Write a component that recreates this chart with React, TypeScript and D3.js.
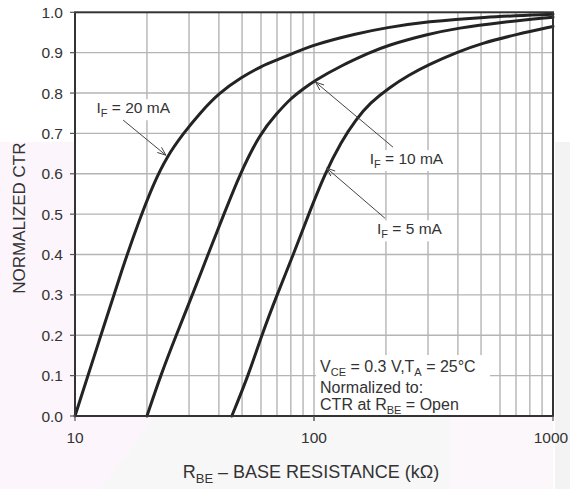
import React from "react";
import * as d3 from "d3";

// ---- data ----
const xTickValues = [10, 100, 1000];
const xTickLabels = ["10", "100", "1000"];
const yTickValues = [0, 0.1, 0.2, 0.3, 0.4, 0.5, 0.6, 0.7, 0.8, 0.9, 1.0];
const yTickLabels = ["0.0", "0.1", "0.2", "0.3", "0.4", "0.5", "0.6", "0.7", "0.8", "0.9", "1.0"];

const rbe20 = [10, 12.6, 15.85, 18.7, 21.3, 24.2, 28.4, 33.3, 40, 50, 60, 70, 80, 100, 150, 200, 300, 500, 1000];
const ctr20 = [0, 0.185, 0.37, 0.49, 0.575, 0.642, 0.7, 0.75, 0.8, 0.84, 0.866, 0.882, 0.896, 0.92, 0.947, 0.962, 0.977, 0.988, 0.995];

const rbe10 = [20, 22.8, 26.5, 31, 36, 42, 49, 59.5, 70, 80, 90, 100, 130, 171, 200, 300, 400, 600, 1000];
const ctr10 = [0, 0.1, 0.2, 0.3, 0.4, 0.5, 0.6, 0.7, 0.75, 0.787, 0.81, 0.83, 0.868, 0.9, 0.917, 0.946, 0.961, 0.975, 0.988];

const rbe5 = [45.3, 53.1, 60.4, 70, 82, 95, 111, 130, 150, 171, 208, 250, 300, 400, 500, 700, 1000];
const ctr5 = [0, 0.1, 0.2, 0.3, 0.4, 0.5, 0.6, 0.68, 0.735, 0.775, 0.815, 0.845, 0.87, 0.902, 0.923, 0.945, 0.965];

const seriesNames = ["20", "10", "5"];

// annotation anchors in data coordinates
const labelR = [12.3, 171, 183.5];
const labelC = [0.75, 0.624, 0.45];
const arrowTailR = [15.9, 214, 198];
const arrowTailC = [0.733, 0.666, 0.49];
const arrowTipR = [24.0, 101.5, 113];
const arrowTipC = [0.646, 0.827, 0.614];

const noteR = 106;
const noteC = [0.109, 0.057, 0.015];

const W = 570;
const H = 489;
const FONT = "'Liberation Sans', Arial, Helvetica, sans-serif";

export default function App() {
  const x = d3.scaleLog().domain([10, 1000]).range([75, 553]);
  const y = d3.scaleLinear().domain([0, 1]).range([416, 12.3]);

  const minorX: number[] = [];
  for (const dec of [10, 100]) {
    for (let k = 2; k <= 9; k++) minorX.push(dec * k);
  }
  const gridY = yTickValues.slice(1, -1);

  const line = d3
    .line<[number, number]>()
    .x((d) => x(d[0]))
    .y((d) => y(d[1]))
    .curve(d3.curveBasis);

  const series = [
    rbe20.map((r, i) => [r, ctr20[i]] as [number, number]),
    rbe10.map((r, i) => [r, ctr10[i]] as [number, number]),
    rbe5.map((r, i) => [r, ctr5[i]] as [number, number]),
  ];

  const arrowHead = (x1: number, y1: number, x2: number, y2: number) => {
    const a = Math.atan2(y2 - y1, x2 - x1);
    const L = 9;
    const s = 0.38;
    const p1 = [x2 - L * Math.cos(a - s), y2 - L * Math.sin(a - s)];
    const p2 = [x2 - L * Math.cos(a + s), y2 - L * Math.sin(a + s)];
    return `M${p1[0]},${p1[1]}L${x2},${y2}L${p2[0]},${p2[1]}`;
  };

  const left = x(10);
  const right = x(1000);
  const top = y(1);
  const bottom = y(0);

  const textColor = "#333";
  const gridColor = "#b4b4b4";

  const labelW = [80, 82, 72];
  const LF = 15.5;
  const SUB = 11;

  return (
    <svg
      width={W}
      height={H}
      style={{ position: "absolute", left: 0, top: 0, background: "#fff" }}
      fontFamily={FONT}
    >
      {/* faint watermark background */}
      <polygon points={`0,142 ${left},142 ${left},${bottom} 155,${bottom} 100,${H} 0,${H}`} fill="#fcf5fb" />
      <polygon points={`155,${bottom} 450,${bottom} 450,${H} 100,${H}`} fill="#f8f7f8" />
      <polygon points={`450,${bottom} ${right},${bottom} ${right},${H} 450,${H}`} fill="#fcf7fb" />
      <polygon points={`${right + 2},142 ${W},142 ${W},${H} ${right + 2},${H}`} fill="#f3f3f3" />
      <rect x={left} y={top} width={right - left} height={bottom - top} fill="#fff" />

      {/* grid */}
      {gridY.map((v) => (
        <line key={"gy" + v} x1={left} x2={right} y1={y(v)} y2={y(v)} stroke={gridColor} strokeWidth={1.4} />
      ))}
      {minorX.map((v) => (
        <line key={"gx" + v} x1={x(v)} x2={x(v)} y1={top} y2={bottom} stroke={gridColor} strokeWidth={1.4} />
      ))}
      <line x1={x(100)} x2={x(100)} y1={top} y2={bottom + 5} stroke={gridColor} strokeWidth={1.4} />

      {/* white boxes behind annotations */}
      {seriesNames.map((n, i) => (
        <rect
          key={"lb" + n}
          x={x(labelR[i]) - 3}
          y={y(labelC[i]) - 14}
          width={labelW[i]}
          height={21}
          fill="#fff"
        />
      ))}
      <rect x={x(noteR) - 4} y={y(noteC[0]) - 17} width={174} height={bottom - (y(noteC[0]) - 17)} fill="#fff" />

      {/* curves */}
      {series.map((s, i) => (
        <path
          key={"c" + i}
          d={line(s) || ""}
          fill="none"
          stroke="#232323"
          strokeWidth={3}
          strokeLinejoin="round"
          strokeLinecap="round"
        />
      ))}

      {/* frame */}
      <rect x={left} y={top} width={right - left} height={bottom - top} fill="none" stroke="#333" strokeWidth={2} />

      {/* ticks */}
      {yTickValues.map((v) => (
        <line key={"ty" + v} x1={left - 5} x2={left} y1={y(v)} y2={y(v)} stroke="#555" strokeWidth={1.2} />
      ))}
      {xTickValues.map((v) => (
        <line key={"tx" + v} x1={x(v)} x2={x(v)} y1={bottom} y2={bottom + 5} stroke="#555" strokeWidth={1.2} />
      ))}

      {/* tick labels */}
      {yTickValues.map((v, i) => (
        <text
          key={"ly" + v}
          x={left - 12}
          y={y(v)}
          dy="0.36em"
          textAnchor="end"
          fontSize={15.5}
          fill={textColor}
        >
          {yTickLabels[i]}
        </text>
      ))}
      {xTickValues.map((v, i) => (
        <text key={"lx" + v} x={x(v) - (i === 2 ? 2 : 0)} y={bottom + 27} textAnchor="middle" fontSize={15.5} fill={textColor}>
          {xTickLabels[i]}
        </text>
      ))}

      {/* axis titles */}
      <text
        transform={`translate(25, ${(top + bottom) / 2 + 4}) rotate(-90)`}
        textAnchor="middle"
        fontSize={17}
        fill={textColor}
      >
        NORMALIZED CTR
      </text>
      <text x={(left + right) / 2 - 3} y={bottom + 62} textAnchor="middle" fontSize={18} fill={textColor}>
        R<tspan fontSize={13} dy={4.5}>BE</tspan>
        <tspan dy={-4.5}> – BASE RESISTANCE (kΩ)</tspan>
      </text>

      {/* series labels + arrows */}
      {seriesNames.map((n, i) => {
        const x1 = x(arrowTailR[i]);
        const y1 = y(arrowTailC[i]);
        const x2 = x(arrowTipR[i]);
        const y2 = y(arrowTipC[i]);
        return (
          <g key={"a" + n}>
            <text x={x(labelR[i])} y={y(labelC[i])} fontSize={LF} fill={textColor}>
              I<tspan fontSize={SUB} dy={4}>F</tspan>
              <tspan dy={-4}>{` = ${n} mA`}</tspan>
            </text>
            <line x1={x1} y1={y1} x2={x2} y2={y2} stroke="#444" strokeWidth={1} />
            <path d={arrowHead(x1, y1, x2, y2)} fill="none" stroke="#444" strokeWidth={1} />
          </g>
        );
      })}

      {/* conditions note */}
      <text x={x(noteR)} y={y(noteC[0])} fontSize={16} fill={textColor}>
        V<tspan fontSize={SUB} dy={4}>CE</tspan>
        <tspan dy={-4}> = 0.3 V,T</tspan>
        <tspan fontSize={SUB} dy={4}>A</tspan>
        <tspan dy={-4}> = 25°C</tspan>
      </text>
      <text x={x(noteR)} y={y(noteC[1])} fontSize={16} fill={textColor}>
        Normalized to:
      </text>
      <text x={x(noteR)} y={y(noteC[2])} fontSize={16} fill={textColor}>
        CTR at R<tspan fontSize={SUB} dy={4}>BE</tspan>
        <tspan dy={-4}> = Open</tspan>
      </text>
    </svg>
  );
}
